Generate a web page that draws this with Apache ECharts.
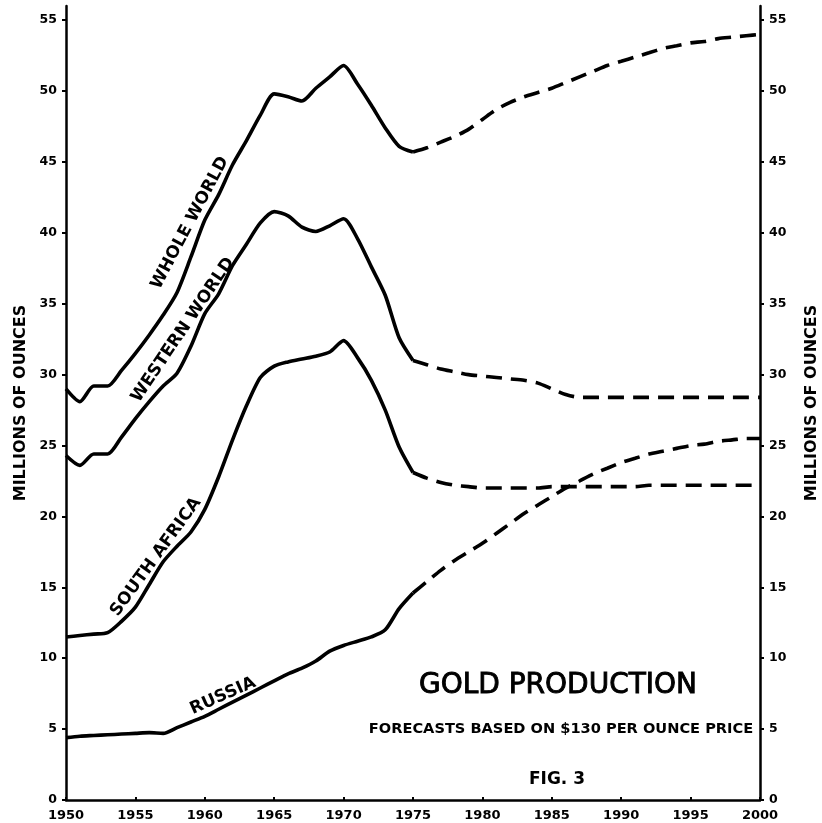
<!DOCTYPE html>
<html>
<head>
<meta charset="utf-8">
<script src="https://cdn.jsdelivr.net/npm/echarts@6/dist/echarts.min.js"></script>
<style>html,body{margin:0;padding:0;background:#fff}#c{width:822px;height:823px}</style>
</head>
<body>
<div id="c"></div>
<script>
// ---- data ----
const histYears = [1950,1951,1952,1953,1954,1955,1956,1957,1958,1959,1960,1961,1962,1963,1964,1965,1966,1967,1968,1969,1970,1971,1972,1973,1974,1975];
const foreYears = [1975,1976,1977,1978,1979,1980,1981,1982,1983,1984,1985,1986,1987,1988,1989,1990,1991,1992,1993,1994,1995,1996,1997,1998,1999,2000];

const wholeWorldHist = [29.0,28.1,29.2,29.2,30.3,31.5,32.8,34.2,35.8,38.3,40.9,42.7,44.8,46.5,48.3,49.8,49.6,49.3,50.2,51.0,51.8,50.5,49.0,47.4,46.1,45.7];
const westernWorldHist = [24.3,23.6,24.4,24.4,25.6,26.9,28.1,29.2,30.1,32.0,34.3,35.7,37.7,39.2,40.7,41.5,41.2,40.4,40.1,40.5,41.0,39.6,37.6,35.6,32.6,31.0];
const southAfricaHist = [11.5,11.6,11.7,11.8,12.6,13.6,15.2,16.8,17.9,18.9,20.5,22.8,25.4,27.8,29.8,30.6,30.9,31.1,31.3,31.6,32.4,31.2,29.6,27.5,24.9,23.1];
const russiaHist = [4.4,4.5,4.55,4.6,4.65,4.7,4.75,4.7,5.1,5.5,5.9,6.4,6.9,7.4,7.9,8.4,8.9,9.3,9.8,10.5,10.9,11.2,11.5,12.0,13.5,14.6];

const wholeWorldFore = [45.7,46.0,46.4,46.8,47.3,48.0,48.7,49.2,49.6,49.9,50.2,50.6,51.0,51.4,51.8,52.1,52.4,52.7,53.0,53.2,53.4,53.5,53.7,53.8,53.9,54.0];
const westernWorldFore = [31.0,30.7,30.4,30.2,30.0,29.9,29.8,29.7,29.6,29.4,29.0,28.6,28.4,28.4,28.4,28.4,28.4,28.4,28.4,28.4,28.4,28.4,28.4,28.4,28.4,28.4];
const southAfricaFore = [23.1,22.7,22.4,22.2,22.1,22.0,22.0,22.0,22.0,22.0,22.1,22.1,22.1,22.1,22.1,22.1,22.1,22.2,22.2,22.2,22.2,22.2,22.2,22.2,22.2,22.2];
const russiaFore = [14.6,15.4,16.2,16.9,17.5,18.1,18.8,19.5,20.2,20.8,21.4,22.0,22.5,23.0,23.4,23.8,24.1,24.4,24.6,24.8,25.0,25.1,25.3,25.4,25.5,25.5];

const yTicks = [0,5,10,15,20,25,30,35,40,45,50,55];
const axisName = 'MILLIONS OF OUNCES';
const curveLabels = ['WHOLE WORLD','WESTERN WORLD','SOUTH AFRICA','RUSSIA'];
const titleText = 'GOLD PRODUCTION';
const subtitleText = 'FORECASTS BASED ON $130 PER OUNCE PRICE';
const figText = 'FIG. 3';

// ---- chart ----
const FONT = 'DejaVu Sans';
const INK = '#000';
const pair = (xs, ys) => xs.map((x, i) => [x, ys[i]]);

function solid(data) {
  return { type: 'line', data, showSymbol: false, smooth: 0.25, lineStyle: { color: INK, width: 3.6 }, z: 3 };
}
function dashed(data) {
  return { type: 'line', data, showSymbol: false, smooth: 0.25, lineStyle: { color: INK, width: 3.6, type: [16, 9] }, z: 3 };
}

function yAxis(pos, gap) {
  return {
    type: 'value', position: pos, min: 0, max: 56, interval: 5,
    name: axisName, nameLocation: 'middle', nameGap: gap, nameRotate: 90,
    nameTextStyle: { fontFamily: FONT, fontWeight: 'bold', fontSize: 16, color: INK },
    axisLine: { show: true, lineStyle: { color: INK, width: 2.5 } },
    axisTick: { show: true, length: 4, customValues: yTicks, lineStyle: { color: INK, width: 2 } },
    axisLabel: { margin: 9, customValues: yTicks, fontFamily: FONT, fontWeight: 'bold', fontSize: 12.5, color: INK,
      formatter: v => (v % 5 === 0 ? String(v) : '') },
    splitLine: { show: false }
  };
}

const chart = echarts.init(document.getElementById('c'), null, { renderer: 'canvas' });
chart.setOption({
  animation: false,
  backgroundColor: '#fff',
  grid: { left: 66, right: 62, top: 6, bottom: 23, containLabel: false, outerBoundsMode: 'none' },
  xAxis: {
    type: 'value', min: 1950, max: 2000, interval: 5,
    axisLine: { show: true, lineStyle: { color: INK, width: 2.5 } },
    axisTick: { show: true, inside: true, length: 3, lineStyle: { color: INK, width: 2 } },
    axisLabel: { margin: 9, fontFamily: FONT, fontWeight: 'bold', fontSize: 13, color: INK, formatter: v => String(v) },
    splitLine: { show: false }
  },
  yAxis: [yAxis('left', 36), yAxis('right', 44)],
  series: [
    solid(pair(histYears, wholeWorldHist)),
    dashed(pair(foreYears, wholeWorldFore)),
    solid(pair(histYears, westernWorldHist)),
    dashed(pair(foreYears, westernWorldFore)),
    solid(pair(histYears, southAfricaHist)),
    dashed(pair(foreYears, southAfricaFore)),
    solid(pair(histYears, russiaHist)),
    dashed(pair(foreYears, russiaFore))
  ],
  graphic: [
    { type: 'text', x: 190, y: 223, rotation: 62 * Math.PI / 180,
      style: { text: curveLabels[0], font: 'bold 17px "DejaVu Sans"', fill: INK, align: 'center', verticalAlign: 'middle' } },
    { type: 'text', x: 183, y: 330, rotation: 56 * Math.PI / 180,
      style: { text: curveLabels[1], font: 'bold 17px "DejaVu Sans"', fill: INK, align: 'center', verticalAlign: 'middle' } },
    { type: 'text', x: 156, y: 557, rotation: 54 * Math.PI / 180,
      style: { text: curveLabels[2], font: 'bold 17px "DejaVu Sans"', fill: INK, align: 'center', verticalAlign: 'middle' } },
    { type: 'text', x: 223, y: 696, rotation: 24 * Math.PI / 180,
      style: { text: curveLabels[3], font: 'bold 17px "DejaVu Sans"', fill: INK, align: 'center', verticalAlign: 'middle' } },
    { type: 'text', x: 558, y: 686,
      style: { text: titleText, font: '28px "DejaVu Sans"', fill: INK, stroke: INK, lineWidth: 0.9, align: 'center', verticalAlign: 'middle' } },
    { type: 'text', x: 561, y: 729,
      style: { text: subtitleText, font: 'bold 14.6px "DejaVu Sans"', fill: INK, align: 'center', verticalAlign: 'middle' } },
    { type: 'text', x: 557, y: 780,
      style: { text: figText, font: 'bold 17px "DejaVu Sans"', fill: INK, align: 'center', verticalAlign: 'middle' } }
  ]
});
</script>
</body>
</html>
